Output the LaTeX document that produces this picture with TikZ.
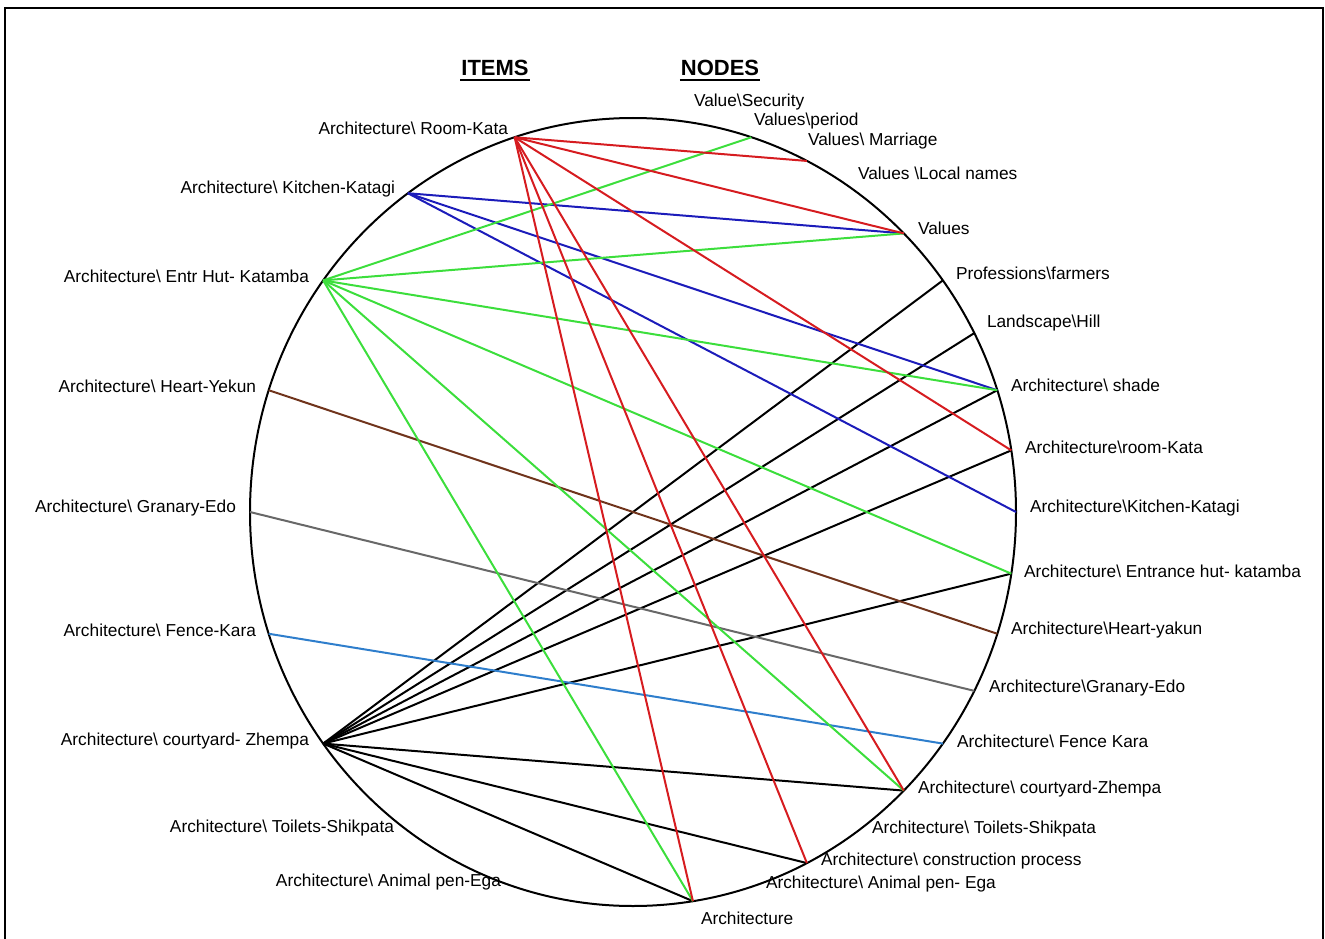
\documentclass[tikz,border=0pt]{standalone}
\usepackage{fontspec}
\setmainfont{Liberation Sans}
\definecolor{linered}{RGB}{214,28,32}
\definecolor{linegreen}{RGB}{60,222,60}
\definecolor{lineblue}{RGB}{28,28,186}
\definecolor{linebrown}{RGB}{112,52,28}
\definecolor{linegray}{RGB}{104,104,104}
\definecolor{linesky}{RGB}{46,126,204}

\begin{document}
\begin{tikzpicture}[x=1pt, y=-1pt, line width=2pt,
    every node/.style={inner sep=0pt, font=\fontsize{17.3}{20}\selectfont},
    head/.style={font=\bfseries\fontsize{22}{24}\selectfont}]
    \useasboundingbox (0,0) rectangle (1325,939);
    \draw[line width=2.2pt] (5,939) -- (5,8) -- (1323,8) -- (1323,939);

    \node[head] (items) at (495,68) {ITEMS};
    \node[head] (nodes) at (720,68) {NODES};
    \draw[line width=2pt] ([yshift=-4pt]items.base west) -- ([yshift=-4pt]items.base east);
    \draw[line width=2pt] ([yshift=-4pt]nodes.base west) -- ([yshift=-4pt]nodes.base east);

    \draw (633,512) ellipse [x radius=383pt, y radius=394pt];

    \foreach \a/\n in {108/iRoom, 126/iKitchen, 144/iEntr, 162/iHeart, 180/iGranary,
        198/iFence, 216/iCourt, 234/iToilets, 252/iPen}
      \coordinate (\n) at ({633+383*cos(\a)},{512-394*sin(\a)});
    \foreach \a/\n in {81/nSecurity, 72/nPeriod, 63/nMarriage, 54/nLocal, 45/nValues,
        36/nFarmers, 27/nHill, 18/nShade, 9/nRoom, 0/nKitchen, -9/nEntrance,
        -18/nHeart, -27/nGranary, -36/nFence, -45/nCourt, -54/nToilets,
        -63/nBuild, -72/nPen, -81/nArch}
      \coordinate (\n) at ({633+383*cos(\a)},{512-394*sin(\a)});

    \node[anchor=east] (tiRoom) at (509,128) {Architecture\textbackslash{} Room-Kata};
    \node[anchor=east] (tiKitchen) at (396,189) {Architecture\textbackslash{} Kitchen-Katagi};
    \node[anchor=east] (tiEntr) at (310,276) {Architecture\textbackslash{} Entr Hut- Katamba};
    \node[anchor=east] (tiHeart) at (257,386) {Architecture\textbackslash{} Heart-Yekun};
    \node[anchor=east] (tiGranary) at (237,508) {Architecture\textbackslash{} Granary-Edo};
    \node[anchor=east] (tiFence) at (257,630) {Architecture\textbackslash{} Fence-Kara};
    \node[anchor=east] (tiCourt) at (310,741) {Architecture\textbackslash{} courtyard- Zhempa};
    \node[anchor=east] (tiToilets) at (395,828) {Architecture\textbackslash{} Toilets-Shikpata};
    \node[anchor=east] (tiPen) at (502,882) {Architecture\textbackslash{} Animal pen-Ega};

    \node[anchor=west] (tnSecurity) at (693,102) {Value\textbackslash Security};
    \node[anchor=west] (tnPeriod) at (753,121) {Values\textbackslash period};
    \node[anchor=west] (tnMarriage) at (807,141) {Values\textbackslash{} Marriage};
    \node[anchor=west] (tnLocal) at (857,173) {Values \textbackslash Local names};
    \node[anchor=west] (tnValues) at (917,228) {Values};
    \node[anchor=west] (tnFarmers) at (955,273) {Professions\textbackslash farmers};
    \node[anchor=west] (tnHill) at (986,323) {Landscape\textbackslash Hill};
    \node[anchor=west] (tnShade) at (1010,385) {Architecture\textbackslash{} shade};
    \node[anchor=west] (tnRoom) at (1024,447) {Architecture\textbackslash room-Kata};
    \node[anchor=west] (tnKitchen) at (1029,508) {Architecture\textbackslash Kitchen-Katagi};
    \node[anchor=west] (tnEntrance) at (1023,571) {Architecture\textbackslash{} Entrance hut- katamba};
    \node[anchor=west] (tnHeart) at (1010,630) {Architecture\textbackslash Heart-yakun};
    \node[anchor=west] (tnGranary) at (988,688) {Architecture\textbackslash Granary-Edo};
    \node[anchor=west] (tnFence) at (956,741) {Architecture\textbackslash{} Fence Kara};
    \node[anchor=west] (tnCourt) at (917,789) {Architecture\textbackslash{} courtyard-Zhempa};
    \node[anchor=west] (tnToilets) at (871,829) {Architecture\textbackslash{} Toilets-Shikpata};
    \node[anchor=west] (tnBuild) at (820,861) {Architecture\textbackslash{} construction process};
    \node[anchor=west] (tnPen) at (765,884) {Architecture\textbackslash{} Animal pen- Ega};
    \node[anchor=west] (tnArch) at (700,918) {Architecture};

    \foreach \n in {nFarmers, nHill, nShade, nRoom, nEntrance, nCourt, nBuild, nArch}
      \draw (iCourt) -- (\n);
    \draw[linegray] (iGranary) -- (nGranary);
    \draw[linebrown] (iHeart) -- (nHeart);
    \draw[linesky] (iFence) -- (nFence);
    \foreach \n in {nValues, nShade, nKitchen}
      \draw[lineblue] (iKitchen) -- (\n);
    \foreach \n in {nPeriod, nValues, nShade, nEntrance, nCourt, nArch}
      \draw[linegreen] (iEntr) -- (\n);
    \foreach \n in {nMarriage, nValues, nRoom, nCourt, nBuild, nArch}
      \draw[linered] (iRoom) -- (\n);
  \end{tikzpicture}
\end{document}
